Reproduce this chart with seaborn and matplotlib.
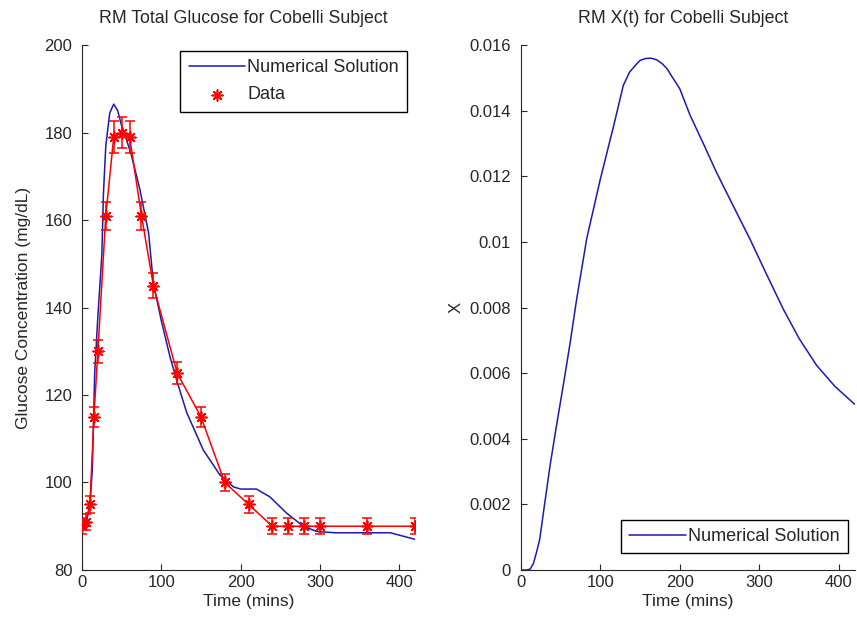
import matplotlib
matplotlib.use("Agg")
import matplotlib.pyplot as plt
import seaborn as sns
import pandas as pd

# ---- data ----
model_time = [0, 5, 10, 13, 16, 20, 25, 27, 30, 35, 40, 45, 50, 55, 62, 73, 84, 90,
              100, 111, 120, 132, 153, 174, 191, 200, 220, 237, 258, 279, 296, 320, 389, 420]
model_glucose = [90, 90.5, 95, 103, 125, 138, 152, 166, 177, 184.5, 186.5, 185, 181.5, 179,
                 175, 167, 157, 145.5, 137, 128.7, 123, 116, 107.4, 101.7, 99, 98.5, 98.5,
                 96.7, 93, 90, 88.8, 88.5, 88.5, 87]

data_time = [0, 5, 10, 15, 20, 30, 40, 50, 60, 75, 90, 120, 150, 180, 210, 240, 260, 280, 300, 360, 420]
data_glucose = [90, 91, 95, 115, 130, 161, 179, 180, 179, 161, 145, 125, 115, 100, 95,
                90, 90, 90, 90, 90, 90]
data_err = [0.02 * v for v in data_glucose]

x_time = [0, 8, 12, 16, 20, 24, 30, 37, 45, 54, 62, 70, 83, 100, 117, 129, 137, 146, 150,
          157, 164, 171, 178, 184, 192, 200, 213, 230, 246, 267, 288, 310, 330, 350, 372,
          395, 420]
x_values = [0, 0, 0.00003, 0.0002, 0.00055, 0.00095, 0.002, 0.0032, 0.0044, 0.0057, 0.0069,
            0.0082, 0.0101, 0.0119, 0.01355, 0.01477, 0.01518, 0.01543, 0.01553, 0.01559,
            0.0156, 0.01555, 0.01543, 0.01528, 0.01497, 0.01467, 0.01386, 0.01298, 0.01213,
            0.01111, 0.0101, 0.00897, 0.00796, 0.00706, 0.00624, 0.0056, 0.00505]

left_yticks = [80, 100, 120, 140, 160, 180, 200]
right_yticks = [0, 0.002, 0.004, 0.006, 0.008, 0.01, 0.012, 0.014, 0.016]
right_yticklabels = ["0", "0.002", "0.004", "0.006", "0.008", "0.01", "0.012", "0.014", "0.016"]
xticks = [0, 100, 200, 300, 400]

# ---- style ----
sns.set_style("ticks", {"xtick.direction": "in", "ytick.direction": "in"})
plt.rcParams["font.family"] = ["Liberation Sans", "DejaVu Sans"]
plt.rcParams["xtick.major.size"] = 4
plt.rcParams["ytick.major.size"] = 4

BLUE = "#1a1ab4"
RED = "#ff0000"

fig = plt.figure(figsize=(8.57, 6.19), dpi=100)
ax1 = fig.add_axes([0.0957, 0.0792, 0.3886, 0.848])
ax2 = fig.add_axes([0.6076, 0.0792, 0.3897, 0.848])

model_df = pd.DataFrame({"t": model_time, "g": model_glucose})
data_df = pd.DataFrame({"t": data_time, "g": data_glucose})
x_df = pd.DataFrame({"t": x_time, "x": x_values})

# left panel
sns.lineplot(data=model_df, x="t", y="g", ax=ax1, color=BLUE, lw=1.1,
             estimator=None, label="Numerical Solution")
sns.lineplot(data=data_df, x="t", y="g", ax=ax1, color=RED, lw=1.1,
             estimator=None, legend=False)
ax1.errorbar(data_time, data_glucose, yerr=data_err, fmt="none", ecolor=RED,
             elinewidth=1.1, capsize=3.5, capthick=1.1)
sns.scatterplot(data=data_df, x="t", y="g", ax=ax1, color=RED, marker=(8, 2, 0),
                s=60, linewidth=1.2, edgecolor=RED, label="Data", zorder=5)

ax1.set_xlim(0, 420)
ax1.set_ylim(80, 200)
ax1.set_xticks(xticks)
ax1.set_yticks(left_yticks)
ax1.set_title("RM Total Glucose for Cobelli Subject", fontsize=12.8, pad=16, x=0.485)
ax1.set_xlabel("Time (mins)", fontsize=12.5, labelpad=3)
ax1.set_ylabel("Glucose Concentration (mg/dL)", fontsize=12.5, labelpad=10)
ax1.tick_params(labelsize=12)
ax1.tick_params(axis="y", pad=7)
leg1 = ax1.legend(loc="upper right", fontsize=13, handlelength=3.15, handletextpad=0.1,
                  labelspacing=0.55, borderpad=0.45, fancybox=False, framealpha=1,
                  edgecolor="black", bbox_to_anchor=(0.976, 0.988), borderaxespad=0)
leg1.get_frame().set_linewidth(1.0)
sns.despine(ax=ax1)

# right panel
sns.lineplot(data=x_df, x="t", y="x", ax=ax2, color=BLUE, lw=1.1,
             estimator=None, label="Numerical Solution")
ax2.set_xlim(0, 420)
ax2.set_ylim(0, 0.016)
ax2.set_xticks(xticks)
ax2.set_yticks(right_yticks)
ax2.set_yticklabels(right_yticklabels)
ax2.set_title("RM X(t) for Cobelli Subject", fontsize=12.8, pad=16, x=0.485)
ax2.set_xlabel("Time (mins)", fontsize=12.5, labelpad=3)
ax2.set_ylabel("X", fontsize=12, labelpad=4)
ax2.tick_params(labelsize=12)
ax2.tick_params(axis="y", pad=7)
leg2 = ax2.legend(loc="lower right", fontsize=13, handlelength=3.15, handletextpad=0.1,
                  borderpad=0.45, fancybox=False, framealpha=1, edgecolor="black",
                  bbox_to_anchor=(0.979, 0.032), borderaxespad=0)
leg2.get_frame().set_linewidth(1.0)
sns.despine(ax=ax2)

fig.savefig("out.png", dpi=100)
